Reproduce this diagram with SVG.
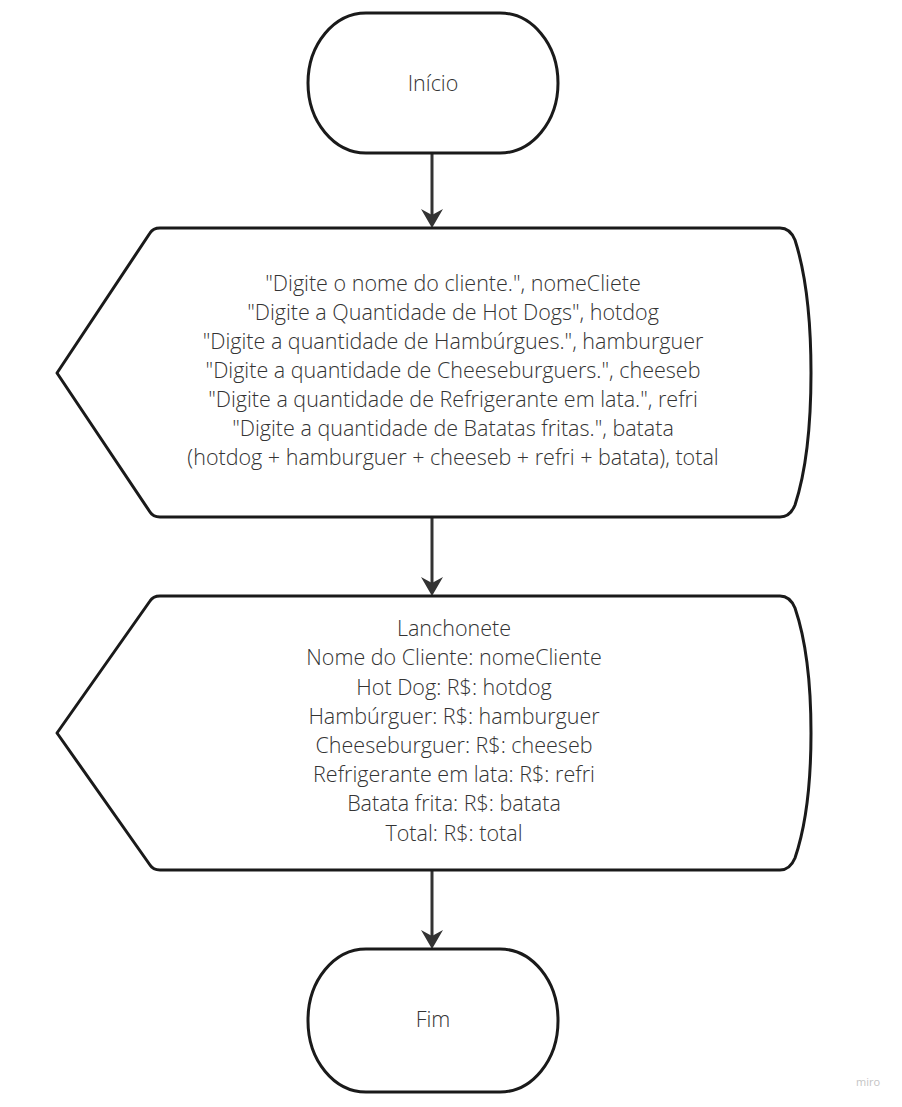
<svg xmlns="http://www.w3.org/2000/svg" width="902" height="1107" viewBox="0 0 902 1107">
<style>
.shape{fill:#ffffff;stroke:#1a1a1a;stroke-width:3;stroke-linejoin:round}
.conn{stroke:#333333;stroke-width:3;fill:none}
.t{font-family:"Open Sans","Liberation Sans",sans-serif;font-size:21.5px;font-weight:300;fill:#333333;text-anchor:middle}
</style>
<defs>
<marker id="ah" markerUnits="userSpaceOnUse" markerWidth="22" markerHeight="24" viewBox="-20 -12 22 24" refX="-10" refY="0" orient="auto" overflow="visible">
<path d="M0,0 L-19,-11 L-13,0 L-19,11 Z" fill="#333333"/>
</marker>
</defs>
<rect width="902" height="1107" fill="#ffffff"/>
<g id="connectors">
<line class="conn" x1="432" y1="153" x2="432" y2="218" marker-end="url(#ah)"/>
<line class="conn" x1="432" y1="518" x2="432" y2="586" marker-end="url(#ah)"/>
<line class="conn" x1="432" y1="871" x2="432" y2="939" marker-end="url(#ah)"/>
</g>
<g id="start">
<rect class="shape" x="308" y="13" width="250" height="140" rx="58" ry="70"/>
<text class="t" x="433" y="91">Início</text>
</g>
<g id="input">
<path class="shape" d="M57,373 L150,233 Q153,228 160,228 L780,228 Q790,228 795,240 Q811,290 811,373 Q811,456 795,505 Q790,517 780,517 L160,517 Q153,517 150,512 Z"/>
<text class="t" x="453" y="291">"Digite o nome do cliente.", nomeCliete</text>
<text class="t" x="453" y="320">"Digite a Quantidade de Hot Dogs", hotdog</text>
<text class="t" x="453" y="349">"Digite a quantidade de Hambúrgues.", hamburguer</text>
<text class="t" x="453" y="378">"Digite a quantidade de Cheeseburguers.", cheeseb</text>
<text class="t" x="453" y="407">"Digite a quantidade de Refrigerante em lata.", refri</text>
<text class="t" x="453" y="436">"Digite a quantidade de Batatas fritas.", batata</text>
<text class="t" x="453" y="465">(hotdog + hamburguer + cheeseb + refri + batata), total</text>
</g>
<g id="output">
<path class="shape" d="M57,733 L150,601 Q153,596 160,596 L780,596 Q790,596 795,608 Q811,655 811,733 Q811,811 795,858 Q790,870 780,870 L160,870 Q153,870 150,865 Z"/>
<text class="t" x="454" y="636">Lanchonete</text>
<text class="t" x="454" y="665">Nome do Cliente: nomeCliente</text>
<text class="t" x="454" y="695">Hot Dog: R$: hotdog</text>
<text class="t" x="454" y="724">Hambúrguer: R$: hamburguer</text>
<text class="t" x="454" y="753">Cheeseburguer: R$: cheeseb</text>
<text class="t" x="454" y="782">Refrigerante em lata: R$: refri</text>
<text class="t" x="454" y="811">Batata frita: R$: batata</text>
<text class="t" x="454" y="841">Total: R$: total</text>
</g>
<g id="end">
<rect class="shape" x="308" y="949" width="250" height="143" rx="58" ry="71"/>
<text class="t" x="433" y="1027">Fim</text>
</g>
<text x="868" y="1086" font-family="'Open Sans','Liberation Sans',sans-serif" font-size="11" fill="#c4c4c4" text-anchor="middle">miro</text>
</svg>
